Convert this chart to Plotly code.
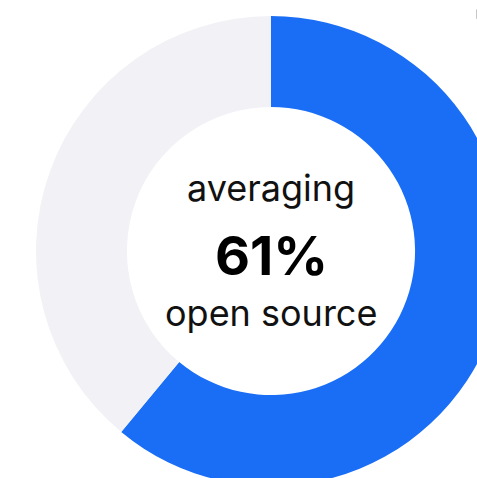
"""Donut chart: share of open source."""

import plotly.graph_objects as go

labels = ["open source", "other"]
values = [61, 39]
colors = ["#1A6EF6", "#F2F2F6"]
center_top = "averaging"
center_value = "61%"
center_bottom = "open source"

W, H = 530, 500
cx, cy, r = 271, 251, 235  # pixel centre/radius inside the figure

fig = go.Figure(
    go.Pie(
        labels=labels,
        values=values,
        hole=0.613,
        sort=False,
        direction="clockwise",
        rotation=0,
        marker=dict(colors=colors, line=dict(width=0)),
        textinfo="none",
        hoverinfo="label+percent",
        domain=dict(x=[(cx - r) / W, (cx + r) / W], y=[(H - cy - r) / H, (H - cy + r) / H]),
    )
)

font = "Inter, 'Noto Sans', sans-serif"
fig.add_annotation(text=center_top, x=cx / W, y=(H - 188) / H, xref="paper", yref="paper",
                   showarrow=False, font=dict(family=font, size=36, color="#111111"))
fig.add_annotation(text=center_value, x=cx / W, y=(H - 255) / H, xref="paper", yref="paper",
                   showarrow=False, font=dict(family=font, size=54, weight=700, color="#000000"))
fig.add_annotation(text=center_bottom, x=cx / W, y=(H - 313) / H, xref="paper", yref="paper",
                   showarrow=False, font=dict(family=font, size=36, color="#111111"))

fig.update_layout(
    width=W,
    height=H,
    margin=dict(l=0, r=0, t=0, b=0),
    showlegend=False,
    paper_bgcolor="white",
    plot_bgcolor="white",
)

# the ring runs past the right and bottom edges of the window, as in the original
fig.write_html(
    "out.html",
    post_script="document.body.style.margin='0';document.body.style.overflow='hidden';",
)
